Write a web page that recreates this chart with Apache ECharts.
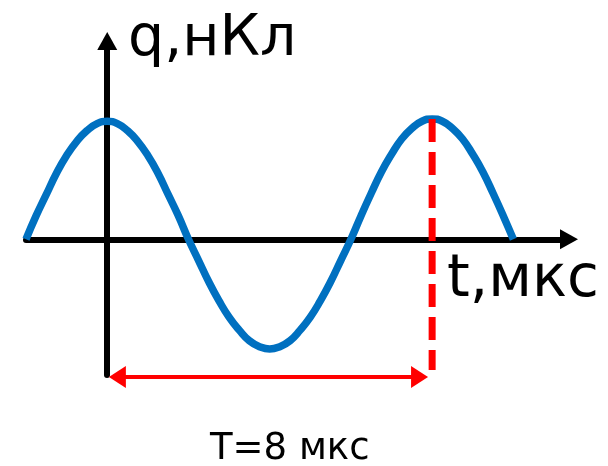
<!DOCTYPE html>
<html>
<head>
<meta charset="utf-8">
<script src="https://cdn.jsdelivr.net/npm/echarts@6/dist/echarts.min.js"></script>
<style>
  html, body { margin: 0; padding: 0; background: #fff; }
  #main { width: 608px; height: 466px; }
</style>
</head>
<body>
<div id="main"></div>
<script>
// curve (t in мкс, q in relative units)
var tValues = [-2, -1.75, -1.5, -1.25, -1, -0.75, -0.5, -0.25, 0, 0.25, 0.5, 0.75, 1, 1.25, 1.5, 1.75,
    2, 2.25, 2.5, 2.75, 3, 3.25, 3.5, 3.75, 4, 4.25, 4.5, 4.75, 5, 5.25, 5.5, 5.75,
    6, 6.25, 6.5, 6.75, 7, 7.25, 7.5, 7.75, 8, 8.25, 8.5, 8.75, 9, 9.25, 9.5, 9.75, 10];
var qValues = [0, 0.2, 0.38, 0.56, 0.71, 0.83, 0.92, 0.98, 1.0, 0.98, 0.92, 0.83, 0.71, 0.56, 0.38, 0.2,
    0, -0.18, -0.36, -0.52, -0.66, -0.77, -0.86, -0.91, -0.93, -0.91, -0.86, -0.77, -0.66, -0.52, -0.36, -0.18,
    0, 0.2, 0.39, 0.57, 0.72, 0.85, 0.94, 1.0, 1.02, 1.0, 0.94, 0.85, 0.72, 0.57, 0.39, 0.2, 0];

var periodStart = 0;
var periodEnd = 8;
var periodLabel = 'T=8 мкс';
var yName = 'q,нКл';
var xName = 't,мкс';

var curve = tValues.map(function (t, i) { return [t, qValues[i]]; });
var peakQ = qValues[tValues.indexOf(periodEnd)];
var arrowQ = -1.166;

var myChart = echarts.init(document.getElementById('main'));

var font = '"DejaVu Sans", sans-serif';

var option = {
    animation: false,
    grid: {
        left: 26,
        right: 39,
        top: 41,
        bottom: 91
    },
    xAxis: {
        type: 'value',
        min: -2,
        max: 11.37,
        axisLine: {
            onZero: true,
            symbol: ['none', 'triangle'],
            symbolSize: [20, 18],
            lineStyle: { color: '#000', width: 6 }
        },
        axisTick: { show: false },
        axisLabel: { show: false },
        splitLine: { show: false }
    },
    yAxis: {
        type: 'value',
        min: -1.15,
        max: 1.68,
        axisLine: {
            show: true,
            onZero: true,
            symbol: ['none', 'triangle'],
            symbolSize: [20, 18],
            lineStyle: { color: '#000', width: 6 }
        },
        axisTick: { show: false },
        axisLabel: { show: false },
        splitLine: { show: false }
    },
    series: [
        {
            type: 'line',
            data: curve,
            smooth: true,
            showSymbol: false,
            clip: false,
            lineStyle: { color: '#0070C0', width: 7.5 },
            z: 2
        },
        {
            // period line, dashed
            type: 'line',
            data: [[periodEnd, peakQ], [periodEnd, -1.107]],
            showSymbol: false,
            clip: false,
            lineStyle: { color: '#FF0000', width: 7, type: [23, 10] },
            z: 3
        },
        {
            // double arrow for T
            type: 'line',
            data: [
                { value: [periodStart + 0.25, arrowQ], symbolRotate: 90 },
                { value: [periodEnd - 0.31, arrowQ], symbolRotate: -90 }
            ],
            symbol: 'triangle',
            symbolSize: [22, 17],
            showSymbol: true,
            clip: false,
            itemStyle: { color: '#FF0000' },
            lineStyle: { color: '#FF0000', width: 4 },
            z: 3
        }
    ],
    graphic: [
        {
            type: 'text',
            left: 128,
            top: 12,
            style: { text: yName, font: '57px ' + font, fill: '#000' }
        },
        {
            type: 'text',
            left: 447,
            top: 252,
            style: { text: xName, font: '58px ' + font, fill: '#000' }
        },
        {
            type: 'text',
            left: 210,
            top: 431,
            style: { text: periodLabel, font: '37px ' + font, fill: '#000' }
        }
    ]
};

myChart.setOption(option);
</script>
</body>
</html>
